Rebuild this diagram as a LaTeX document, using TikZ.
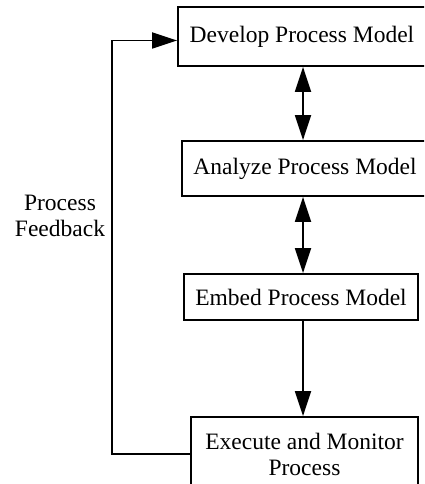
\documentclass[tikz,border=0pt]{standalone}
\usepackage{fontspec}
\setmainfont{Liberation Serif}
\usetikzlibrary{arrows.meta}
\begin{document}
\begin{tikzpicture}[x=1pt,y=-1pt,
  box/.style={draw,line width=1.8pt,inner sep=0pt,align=center,
    font=\fontsize{23.5}{26}\selectfont},
  con/.style={line width=1.8pt},
  tip/.style={-{Triangle[length=25pt,width=16pt]}},
  dtip/.style={{Triangle[length=25pt,width=16pt]}-{Triangle[length=25pt,width=16pt]}},
  lbl/.style={align=center,inner sep=0pt,font=\fontsize{23.5}{26}\selectfont}]
\useasboundingbox (0,0) rectangle (424,484);
\clip (0,0) rectangle (424,484);
\node[box,minimum width=248pt,minimum height=59pt] (dev) at (302,36.5) {Develop Process Model};
\node[box,minimum width=246pt,minimum height=55pt] (ana) at (305,168.5) {Analyze Process Model};
\node[box,minimum width=234pt,minimum height=46pt] (emb) at (301,297) {Embed Process Model};
\node[box,minimum width=227pt,minimum height=74pt] (exe) at (304.5,454) {Execute and Monitor\\Process};
\coordinate (ax) at (303,0);
\coordinate (fb) at (112,240);
\draw[con,dtip] (dev.south -| ax) -- (ana.north -| ax);
\draw[con,dtip] (ana.south -| ax) -- (emb.north -| ax);
\draw[con,tip] (emb.south -| ax) -- (exe.north -| ax);
\draw[con,tip] (exe.west) -| (fb) |- ([yshift=-4pt]dev.west);
\node[lbl] (fbl) at (60,216) {Process\\Feedback};
\end{tikzpicture}
\end{document}
